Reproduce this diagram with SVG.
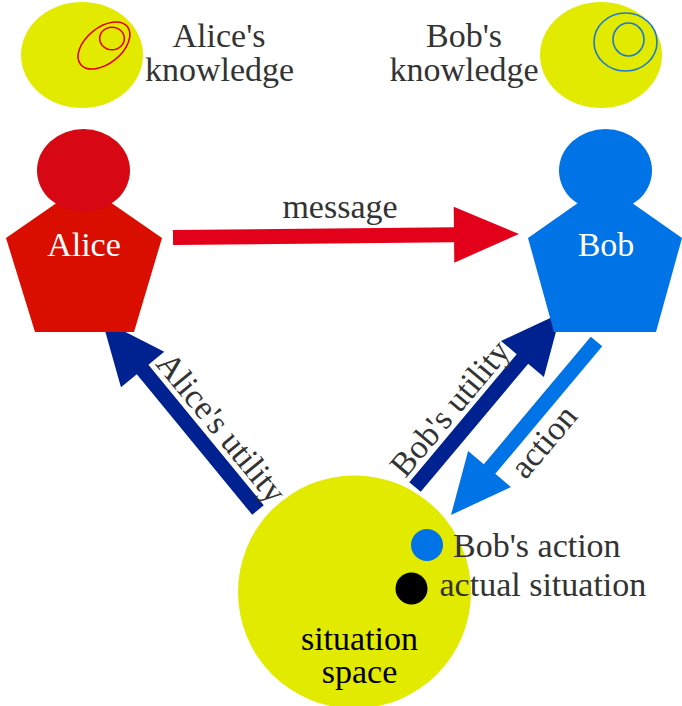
<svg xmlns="http://www.w3.org/2000/svg" width="682" height="706" viewBox="0 0 682 706">
<style>
.t{font-family:"Liberation Serif","Times New Roman",serif;font-size:34px;fill:#333333}
.w{fill:#ffffff}
.k{fill:#000000}
.m{text-anchor:middle}
.yel{fill:#e2ea00}
.dark{fill:#002190}
</style>
<rect width="682" height="706" fill="#ffffff"/>
<g id="connectors">
  <polygon id="message-arrow" fill="#e2001a" points="173.08,245 454.08,242.16 454.28,262.66 519,234 453.72,206.66 453.92,227.16 172.92,230"/>
  <polygon id="alice-utility-arrow" class="dark" points="263.8,505.24 148.41,364.71 164.25,351.7 102,320 120.97,387.24 136.81,374.23 252.2,514.76"/>
  <polygon id="bob-utility-arrow" class="dark" points="420.75,491.82 528.18,363.78 543.88,376.96 561,313 500.98,340.96 516.69,354.14 409.26,482.18"/>
  <polygon id="action-arrow" fill="#0073e6" points="590.75,336.68 483.81,464.21 468.11,451.04 451,515 511.01,487.02 495.31,473.85 602.25,346.32"/>
  <text class="t m" x="340" y="218">message</text>
  <text class="t m" transform="translate(203.5,442.4) rotate(50.6)" x="0" y="-12">Alice's utility</text>
  <text class="t m" transform="translate(467.6,423.1) rotate(-50)" x="0" y="-12">Bob's utility</text>
  <text class="t m" transform="translate(525.5,426.2) rotate(-50)" x="0" y="35">action</text>
</g>
<g id="alice-knowledge">
  <ellipse class="yel" cx="82" cy="55" rx="61" ry="53"/>
  <ellipse cx="104" cy="45.5" rx="30" ry="18" transform="rotate(-39 104 45.5)" fill="none" stroke="#e0001a" stroke-width="1.6"/>
  <ellipse cx="112" cy="38.5" rx="12.3" ry="11.3" fill="none" stroke="#e0001a" stroke-width="1.6"/>
  <text class="t m" x="219" y="47">Alice's</text>
  <text class="t m" x="219.5" y="81">knowledge</text>
</g>
<g id="bob-knowledge">
  <ellipse class="yel" cx="601" cy="55" rx="61" ry="53"/>
  <ellipse cx="625.5" cy="42" rx="31.5" ry="29" fill="none" stroke="#1a78d8" stroke-width="1.6"/>
  <ellipse cx="628.5" cy="39.5" rx="15.5" ry="16.5" fill="none" stroke="#1a78d8" stroke-width="1.6"/>
  <text class="t m" x="464" y="47">Bob's</text>
  <text class="t m" x="464" y="81">knowledge</text>
</g>
<g id="alice">
  <polygon fill="#da0e00" points="84,184 162,238 134,332 35,332 6,238"/>
  <ellipse fill="#d70814" cx="83.5" cy="170.5" rx="46.5" ry="41.5"/>
  <text class="t w m" x="84" y="256">Alice</text>
</g>
<g id="bob">
  <polygon fill="#0073e6" points="605,184 682,238 656,332 554,332 528,238"/>
  <ellipse fill="#0073e6" cx="605.5" cy="170.5" rx="46.5" ry="41.5"/>
  <text class="t w m" x="606" y="256">Bob</text>
</g>
<g id="situation-space">
  <circle class="yel" cx="354.5" cy="592" r="116.5"/>
  <text class="t k m" x="359.5" y="650">situation</text>
  <text class="t k m" x="359.5" y="683">space</text>
</g>
<g id="bob-action">
  <circle fill="#0073e6" cx="427" cy="545" r="16"/>
  <text class="t" x="453" y="557">Bob's action</text>
</g>
<g id="actual-situation">
  <circle fill="#000000" cx="411.5" cy="588.5" r="16"/>
  <text class="t" x="439.5" y="596">actual situation</text>
</g>
</svg>
